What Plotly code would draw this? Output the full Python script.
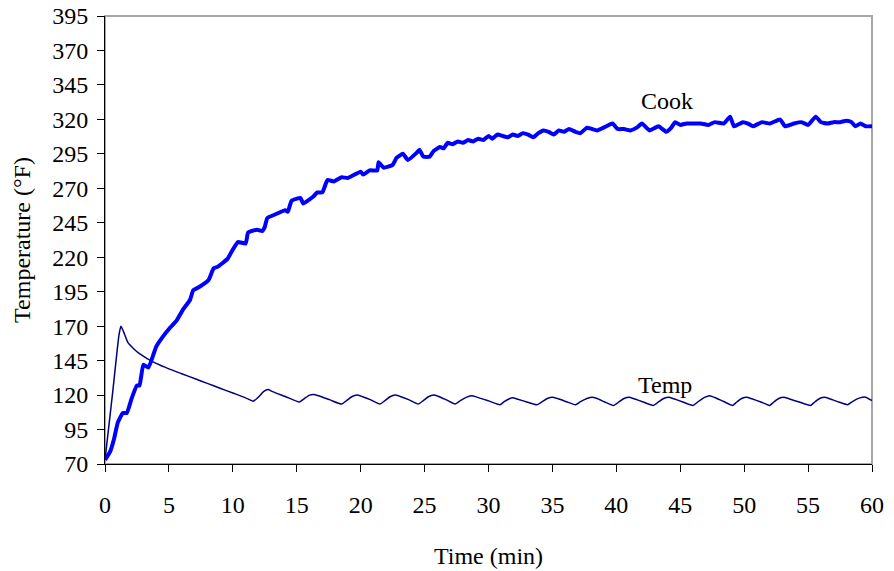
import plotly.graph_objects as go

# ---- data ----
cook_t = [0, 0.4, 0.7, 1.0, 1.4, 1.7, 2.1, 2.5, 2.7, 3.0, 3.4, 4.0, 4.5, 5.1, 5.6, 6.1, 6.65, 6.9, 7.3,
          8.1, 8.5, 8.8, 9.6, 9.9, 10.4, 11.0, 11.2, 11.9, 12.3, 12.5, 12.7, 13.3, 14.1, 14.3, 14.6,
          15.3, 15.5, 16.3, 16.6, 17.0, 17.4, 17.9, 18.5, 19.0, 20.0, 20.2, 20.7, 21.3, 21.4, 21.8,
          22.5, 22.8, 23.3, 23.7, 24.4, 24.6, 24.9, 25.4, 25.7, 26.2, 26.5, 26.8, 27.2, 27.6, 28.0,
          28.4, 28.8, 29.2, 29.6, 30.0, 30.3, 30.7, 31.1, 31.5, 31.9, 32.3, 32.7, 33.1, 33.5, 33.9,
          34.3, 34.7, 35.1, 35.5, 35.9, 36.3, 36.8, 37.2, 37.7, 38.1, 38.5, 39.0, 39.7, 40.1, 40.6,
          41.1, 41.6, 42.0, 42.6, 43.3, 43.9, 44.3, 44.6, 45.0, 45.5, 46.1, 46.6, 47.2, 47.7, 48.4,
          48.9, 49.2, 49.9, 50.3, 50.7, 51.4, 52.0, 52.8, 53.2, 53.9, 54.5, 55.0, 55.6, 56.0, 56.5,
          57.0, 57.5, 58.0, 58.4, 58.7, 59.1, 59.5, 60.0]
cook_v = [73, 79, 88, 100, 107, 107, 118, 127, 127, 142, 140, 155, 162, 169, 174, 182, 189, 196, 198,
          203.5, 212, 213, 219, 224, 231, 230, 238, 240, 239, 242, 248.5, 251, 254, 253, 261,
          263, 259, 264, 267, 267, 276, 275, 278, 277.5, 282, 280, 283, 283, 289, 285,
          287, 292, 295, 290.6, 296, 298, 293, 293, 297, 300, 299, 303, 302, 304, 303,
          305, 304, 306, 305, 308, 306, 309, 308, 307, 309, 308, 310, 309, 307, 310,
          312, 311, 309, 312, 311, 313, 311, 310, 314, 313, 312, 314, 317, 313, 313,
          312, 314, 317, 312, 315, 311, 314, 318, 316, 317, 317, 317, 316, 318, 317,
          322, 315, 318, 317, 315, 318, 317, 320, 315, 317, 318, 316, 322, 318, 317,
          318, 318, 319, 318, 315, 317, 315, 315]

temp_t = [0, 0.6, 1.1, 1.25, 1.45, 1.8, 2.2, 2.7, 3.3, 4.0, 5.0, 6.0, 7.0, 8.0, 9.0, 10.0, 11.0,
          11.6, 12.0, 12.4, 12.75, 13.1, 14.1, 15.2, 15.6, 16.0, 16.3, 16.7, 17.6, 18.5,
          18.9, 19.3, 19.7, 20.1, 20.8, 21.5, 21.9, 22.3, 22.7, 23.1, 23.8, 24.5,
          24.9, 25.3, 25.7, 26.1, 26.7, 27.4, 27.8, 28.3, 28.7, 29.1, 30.0, 30.9,
          31.2, 31.6, 31.9, 32.3, 33.0, 33.8, 34.2, 34.6, 35.0, 35.4, 36.1, 36.8,
          37.2, 37.7, 38.1, 38.5, 39.1, 39.8, 40.2, 40.6, 41.0, 41.4, 42.1, 42.9,
          43.3, 43.7, 44.1, 44.5, 45.2, 46.0, 46.4, 46.9, 47.3, 47.7, 48.4, 49.1,
          49.4, 49.8, 50.2, 50.6, 51.3, 52.0, 52.3, 52.7, 53.1, 53.5, 54.3, 55.2,
          55.5, 55.9, 56.3, 56.7, 57.4, 58.1, 58.5, 59.0, 59.5, 60.0]
temp_v = [73, 122, 164, 170, 166, 158, 154, 150, 146.5, 143, 139, 135.5, 132, 128.5, 125, 121.5, 118,
          115.5, 118.5, 122.5, 124, 122.5, 119, 115, 117.5, 120, 120.5, 119.5, 116.5, 113.5,
          116, 118.8, 120, 119, 116.5, 113.5, 116, 118.8, 120, 119, 116.5, 113.5,
          116, 118.8, 120, 119, 116.5, 113.5, 116, 118.5, 119.5, 118.5, 115.8, 113,
          115, 117.2, 118, 117, 115, 113, 115.2, 117.5, 118.5, 117.5, 115.2, 113,
          115.2, 117.5, 118.5, 117.5, 115, 112.5, 115, 117.5, 118.5, 117.3, 115, 112.5,
          115, 117.5, 118.5, 117.3, 115, 112.5, 115.2, 118.3, 119.5, 118.2, 115.3, 112.5,
          114.8, 117.5, 118.5, 117.3, 115, 112.5, 114.8, 117.5, 118.5, 117.3, 115, 112.5,
          114.8, 117.5, 118.5, 117.3, 115, 113, 115.5, 117.8, 118.5, 116]

x_ticks = list(range(0, 61, 5))
y_ticks = list(range(70, 396, 25))

FONT = "Liberation Serif"
FS = 24

fig = go.Figure()
fig.add_trace(go.Scatter(x=temp_t, y=temp_v, mode="lines", name="Temp",
                         line=dict(color="#000080", width=1.5, shape="spline", smoothing=0.5)))
fig.add_trace(go.Scatter(x=cook_t, y=cook_v, mode="lines", name="Cook",
                         line=dict(color="#0000FF", width=4, shape="spline", smoothing=0.4)))

fig.add_annotation(x=44.0, y=333, text="Cook", showarrow=False,
                   font=dict(family=FONT, size=FS, color="black"))
fig.add_annotation(x=43.8, y=127.5, text="Temp", showarrow=False,
                   font=dict(family=FONT, size=FS, color="black"))

fig.add_shape(type="rect", xref="paper", yref="paper", x0=0, y0=0, x1=1, y1=1,
              line=dict(color="#A6A6A6", width=2), layer="below")

common_x = dict(range=[0, 60], tickvals=x_ticks, showgrid=False, zeroline=False, automargin=False)
common_y = dict(range=[70, 395], tickvals=y_ticks, showgrid=False, zeroline=False, automargin=False)

fig.update_layout(
    width=894, height=571,
    margin=dict(l=105, r=22, t=16, b=107),
    paper_bgcolor="white", plot_bgcolor="white",
    showlegend=False,
    font=dict(family=FONT, size=FS, color="black"),
    xaxis=dict(**common_x, ticks="outside", ticklen=7, tickwidth=1, tickcolor="black",
               showline=True, linecolor="black", linewidth=1,
               tickfont=dict(family=FONT, size=FS, color="black"),
               ticklabelstandoff=12,
               title=dict(text="Time (min)", font=dict(family=FONT, size=FS, color="black"),
                          standoff=30)),
    yaxis=dict(**common_y, ticks="outside", ticklen=7, tickwidth=1, tickcolor="black",
               showline=True, linecolor="black", linewidth=1,
               tickfont=dict(family=FONT, size=FS, color="black"),
               ticklabelstandoff=4,
               title=dict(text="Temperature (°F)", font=dict(family=FONT, size=FS, color="black"),
                          standoff=14)),
    xaxis2=dict(**common_x, overlaying="x", matches="x", anchor="y", side="bottom",
                ticks="inside", ticklen=5, tickwidth=1, tickcolor="black",
                showticklabels=False, showline=False),
    yaxis2=dict(**common_y, overlaying="y", matches="y", anchor="x", side="left",
                ticks="inside", ticklen=5, tickwidth=1, tickcolor="black",
                showticklabels=False, showline=False),
)

fig.write_html("out.html", config={"displayModeBar": False},
               post_script="document.body.style.margin='0';document.body.style.padding='0';")
